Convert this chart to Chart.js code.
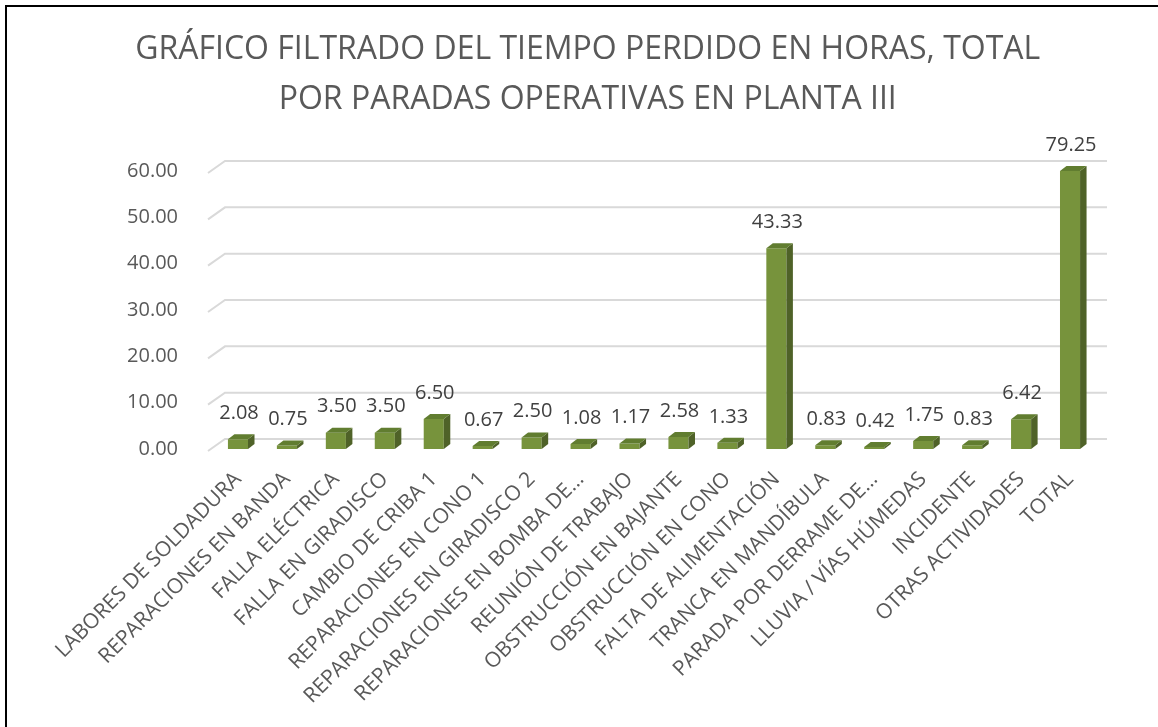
<!DOCTYPE html>
<html lang="es">
<head>
<meta charset="utf-8">
<title>Tiempo perdido por paradas operativas - Planta III</title>
<script src="https://cdn.jsdelivr.net/npm/chart.js@4.4.1/dist/chart.umd.min.js"></script>
<style>
  html, body { margin: 0; padding: 0; background: #fff; }
  #wrap { position: relative; width: 1158px; height: 727px; overflow: hidden; }
  #frame {
    position: absolute; left: 5px; top: 5px; right: -10px; bottom: -10px;
    border-left: 2px solid #000; border-top: 2px solid #000;
    pointer-events: none;
  }
  canvas { position: absolute; left: 0; top: 0; }
</style>
</head>
<body>
<div id="wrap">
  <canvas id="paradasChart" width="1158" height="727"></canvas>
  <div id="frame"></div>
</div>
<script>
// Horas perdidas por tipo de parada operativa
const categorias = [
  'LABORES DE SOLDADURA',
  'REPARACIONES EN BANDA',
  'FALLA ELÉCTRICA',
  'FALLA EN GIRADISCO',
  'CAMBIO DE CRIBA 1',
  'REPARACIONES EN CONO 1',
  'REPARACIONES EN GIRADISCO 2',
  'REPARACIONES EN BOMBA DE…',
  'REUNIÓN DE TRABAJO',
  'OBSTRUCCIÓN EN BAJANTE',
  'OBSTRUCCIÓN EN CONO',
  'FALTA DE ALIMENTACIÓN',
  'TRANCA EN MANDÍBULA',
  'PARADA POR DERRAME DE…',
  'LLUVIA / VÍAS HÚMEDAS',
  'INCIDENTE',
  'OTRAS ACTIVIDADES',
  'TOTAL'
];
const horas = [2.08, 0.75, 3.50, 3.50, 6.50, 0.67, 2.50, 1.08, 1.17, 2.58, 1.33, 43.33, 0.83, 0.42, 1.75, 0.83, 6.42, 79.25];
const ejeY = [0, 10, 20, 30, 40, 50, 60];

const FONT = '"Open Sans", "Noto Sans", sans-serif';
const GRIS = '#595959';
const VERDE = '#77933C';
const VERDE_LADO = '#4F6228';
const VERDE_TAPA = '#617D30';

// fondo: rejilla con el quiebre diagonal del piso 3D
const rejilla3d = {
  id: 'rejilla3d',
  beforeDatasetsDraw(chart) {
    const { ctx, chartArea: a } = chart;
    const y = chart.scales.y;
    ctx.save();
    ctx.strokeStyle = '#D9D9D9';
    ctx.lineWidth = 2;
    ejeY.forEach(v => {
      const py = y.getPixelForValue(v);
      ctx.beginPath();
      ctx.moveTo(a.left - 5.5, py + 2);
      ctx.lineTo(a.left + 11.5, py - 10);
      ctx.lineTo(a.right + 12.5, py - 10);
      ctx.stroke();
    });
    ctx.restore();
  }
};

// caras lateral y superior de cada barra + etiqueta de valor
const barras3d = {
  id: 'barras3d',
  afterDatasetsDraw(chart) {
    const { ctx, chartArea: a } = chart;
    const meta = chart.getDatasetMeta(0);
    const dx = 6.5, dy = 5;
    ctx.save();
    meta.data.forEach((bar, i) => {
      const { x, y, base, width } = bar.getProps(['x', 'y', 'base', 'width'], true);
      const top = Math.max(y, a.top);
      const l = x - width / 2, r = x + width / 2;

      ctx.fillStyle = VERDE_LADO;
      ctx.beginPath();
      ctx.moveTo(r, base);
      ctx.lineTo(r, top);
      ctx.lineTo(r + dx, top - dy);
      ctx.lineTo(r + dx, base - dy);
      ctx.closePath();
      ctx.fill();

      ctx.fillStyle = VERDE_TAPA;
      ctx.beginPath();
      ctx.moveTo(l, top);
      ctx.lineTo(r, top);
      ctx.lineTo(r + dx, top - dy);
      ctx.lineTo(l + dx, top - dy);
      ctx.closePath();
      ctx.fill();

      ctx.fillStyle = '#404040';
      ctx.font = '20px ' + FONT;
      ctx.textAlign = 'center';
      ctx.textBaseline = 'middle';
      ctx.fillText(horas[i].toFixed(2), x + 1, top - 26);
    });
    ctx.restore();
  }
};

new Chart(document.getElementById('paradasChart'), {
  type: 'bar',
  data: {
    labels: categorias,
    datasets: [{
      label: 'Horas',
      data: horas,
      backgroundColor: VERDE,
      borderWidth: 0,
      categoryPercentage: 1,
      barPercentage: 0.41,
      clip: 0
    }]
  },
  options: {
    responsive: false,
    animation: false,
    layout: { padding: { left: 81, right: 63.5, top: 10, bottom: 0 } },
    plugins: {
      legend: { display: false },
      tooltip: { enabled: false },
      title: {
        display: true,
        text: ['GRÁFICO FILTRADO DEL TIEMPO PERDIDO EN HORAS, TOTAL', 'POR PARADAS OPERATIVAS EN PLANTA III'],
        color: GRIS,
        font: { family: FONT, size: 32, weight: '400', lineHeight: 1.5625 },
        padding: { top: 14.5, bottom: 46.5 }
      }
    },
    scales: {
      x: {
        grid: { display: false },
        border: { display: false },
        ticks: {
          color: GRIS,
          font: { family: FONT, size: 21 },
          minRotation: 45,
          maxRotation: 45,
          autoSkip: false,
          padding: 10
        },
        afterFit(scale) { scale.height = 278; }
      },
      y: {
        min: 0,
        max: 60,
        grid: { display: false },
        border: { display: false },
        ticks: {
          stepSize: 10,
          color: GRIS,
          font: { family: FONT, size: 20 },
          padding: 27.5,
          callback: v => v.toFixed(2)
        },
        afterFit(scale) { scale.width = 132.5; }
      }
    }
  },
  plugins: [rejilla3d, barras3d]
});
</script>
</body>
</html>
